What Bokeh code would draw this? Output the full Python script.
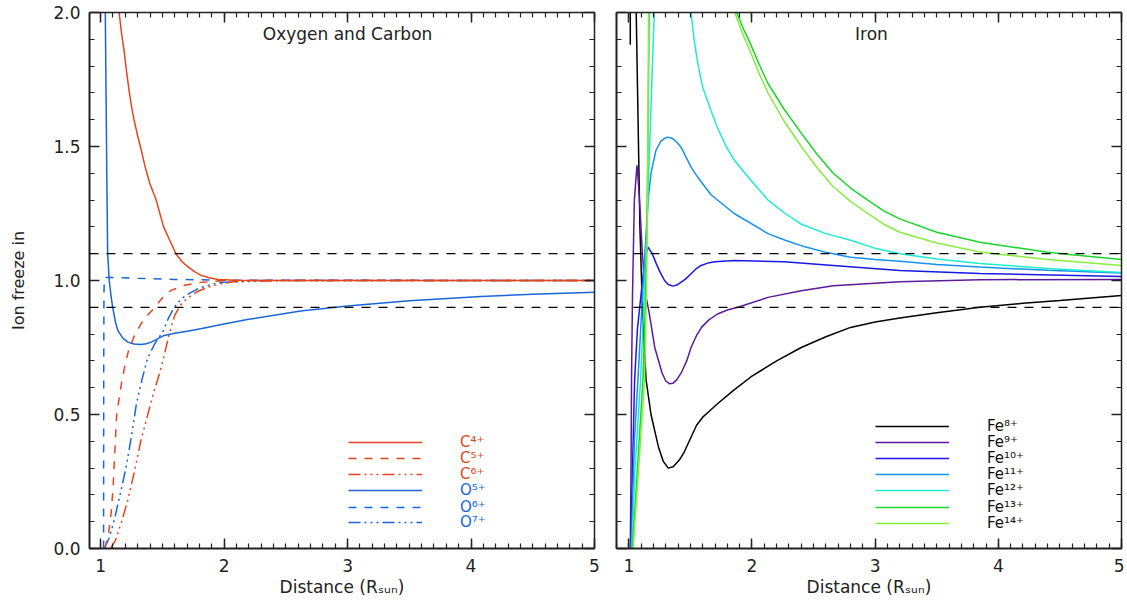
from bokeh.plotting import figure
from bokeh.layouts import row
from bokeh.models import (LinearAxis, SingleIntervalTicker, PrintfTickFormatter,
                          Range1d, Span, Label, Legend, LegendItem)
from bokeh.core.properties import value
from bokeh.embed import file_html
from bokeh.resources import INLINE

# ---------------- data ----------------
# Left panel: Oxygen and Carbon
c4_x = [1.13, 1.15, 1.17, 1.19, 1.21, 1.23, 1.25, 1.27, 1.30, 1.33, 1.36, 1.40, 1.45, 1.48,
        1.51, 1.56, 1.61, 1.66, 1.71, 1.76, 1.81, 1.88, 1.95, 2.1, 2.3, 3.0, 4.0, 5.0]
c4_y = [2.2, 2.0, 1.92, 1.858, 1.78, 1.71, 1.65, 1.60, 1.54, 1.485, 1.425, 1.36, 1.30, 1.25,
        1.20, 1.15, 1.10, 1.07, 1.05, 1.033, 1.02, 1.01, 1.004, 1.001, 1.0, 1.0, 1.0, 1.0]

c5_x = [1.035, 1.045, 1.065, 1.085, 1.10, 1.115, 1.13, 1.15, 1.17, 1.20, 1.23, 1.28, 1.33,
        1.38, 1.42, 1.50, 1.57, 1.68, 1.81, 2.0, 2.2, 5.0]
c5_y = [0.0, 0.02, 0.06, 0.13, 0.22, 0.36, 0.50, 0.56, 0.62, 0.69, 0.745, 0.80, 0.84,
        0.87, 0.89, 0.935, 0.963, 0.982, 0.993, 0.999, 1.0, 1.0]

c6_x = [1.08, 1.12, 1.17, 1.22, 1.275, 1.33, 1.385, 1.435, 1.475, 1.51, 1.555, 1.60, 1.65,
        1.71, 1.78, 1.87, 1.97, 2.08, 2.5, 5.0]
c6_y = [0.0, 0.03, 0.10, 0.18, 0.29, 0.41, 0.505, 0.59, 0.65, 0.71, 0.80, 0.87, 0.91,
        0.937, 0.958, 0.975, 0.988, 0.995, 1.0, 1.0]

o5_x = [1.033, 1.038, 1.044, 1.05, 1.057, 1.07, 1.085, 1.098, 1.12, 1.14, 1.18, 1.22, 1.27,
        1.327, 1.37, 1.41, 1.46, 1.515, 1.6, 1.7, 1.81, 2.0, 2.2, 2.62, 3.0, 3.5, 4.08, 4.5, 5.0]
o5_y = [2.3, 2.0, 1.7, 1.4, 1.1, 1.0, 0.94, 0.9, 0.845, 0.813, 0.785, 0.77, 0.763,
        0.761, 0.764, 0.77, 0.782, 0.795, 0.803, 0.811, 0.82, 0.838, 0.855, 0.886, 0.905,
        0.924, 0.94, 0.949, 0.956]

o6_x = [1.024, 1.025, 1.027, 1.03, 1.06, 1.3, 1.6, 2.0, 5.0]
o6_y = [0.0, 0.6, 0.95, 1.01, 1.012, 1.008, 1.004, 1.001, 1.0]

o7_x = [1.03, 1.07, 1.11, 1.155, 1.205, 1.25, 1.29, 1.335, 1.38, 1.44, 1.505, 1.55, 1.595,
        1.65, 1.71, 1.8, 1.95, 2.3, 5.0]
o7_y = [0.0, 0.04, 0.105, 0.195, 0.30, 0.42, 0.54, 0.63, 0.71, 0.765, 0.81, 0.86, 0.90,
        0.93, 0.95, 0.972, 0.992, 1.0, 1.0]

# Right panel: Iron
fe8_x = [1.012, 1.0125, 1.058, 1.06, 1.075, 1.09, 1.11, 1.14, 1.18, 1.24, 1.28, 1.32, 1.36,
         1.41, 1.45, 1.49, 1.55, 1.6, 1.66, 1.72, 1.85, 1.99, 2.2, 2.40, 2.6, 2.80, 3.0,
         3.20, 3.5, 3.85, 4.2, 4.5, 5.0]
fe8_y = [1.88, 3.0, 3.0, 2.0, 1.6, 1.2, 0.9, 0.63, 0.50, 0.38, 0.325, 0.30, 0.305,
         0.33, 0.36, 0.40, 0.46, 0.49, 0.515, 0.54, 0.59, 0.64, 0.70, 0.75, 0.79, 0.825, 0.845,
         0.86, 0.88, 0.90, 0.915, 0.925, 0.944]

fe9_x = [1.012, 1.018, 1.022, 1.03, 1.045, 1.066, 1.08, 1.093, 1.11, 1.126, 1.14, 1.166, 1.21,
         1.27, 1.30, 1.33, 1.36, 1.39, 1.425, 1.47, 1.505, 1.55, 1.59, 1.65, 1.72, 1.8, 1.885,
         2.13, 2.4, 2.66, 3.2, 3.85, 5.0]
fe9_y = [0.0, 0.3, 0.63, 0.95, 1.3, 1.43, 1.35, 1.25, 1.1, 1.0, 0.94, 0.877, 0.751,
         0.655, 0.625, 0.615, 0.617, 0.63, 0.655, 0.70, 0.75, 0.795, 0.825, 0.853, 0.875, 0.89,
         0.90, 0.937, 0.962, 0.98, 0.995, 1.003, 1.004]

fe10_x = [1.015, 1.03, 1.047, 1.07, 1.10, 1.13, 1.155, 1.19, 1.223, 1.25, 1.29, 1.32, 1.357,
          1.39, 1.425, 1.46, 1.505, 1.545, 1.587, 1.64, 1.7, 1.855, 2.26, 2.66, 3.2, 3.85, 5.0]
fe10_y = [0.0, 0.3, 0.63, 0.82, 0.95, 1.08, 1.125, 1.10, 1.063, 1.035, 1.0, 0.985, 0.979,
          0.983, 0.994, 1.005, 1.025, 1.043, 1.056, 1.065, 1.07, 1.075, 1.07, 1.056, 1.037,
          1.026, 1.015]

fe11_x = [1.02, 1.045, 1.074, 1.10, 1.13, 1.157, 1.18, 1.22, 1.26, 1.29, 1.317, 1.345, 1.37,
          1.425, 1.505, 1.56, 1.667, 1.855, 2.13, 2.27, 2.40, 2.6, 2.80, 3.0, 3.2, 3.5, 3.85,
          4.4, 5.0]
fe11_y = [0.0, 0.4, 0.63, 0.85, 1.1, 1.30, 1.40, 1.485, 1.52, 1.53, 1.535, 1.532, 1.525,
          1.497, 1.423, 1.385, 1.32, 1.25, 1.175, 1.15, 1.13, 1.105, 1.087, 1.078, 1.072, 1.06,
          1.05, 1.038, 1.028]

fe12_x = [1.025, 1.05, 1.096, 1.13, 1.155, 1.18, 1.207, 1.23, 1.44, 1.47, 1.505, 1.53, 1.56,
          1.60, 1.667, 1.72, 1.79, 1.855, 1.98, 2.13, 2.27, 2.40, 2.6, 2.80, 3.0, 3.2, 3.5,
          3.85, 4.4, 5.0]
fe12_y = [0.0, 0.3, 0.63, 1.0, 1.30, 1.65, 2.0, 2.5, 2.5, 2.2, 2.0, 1.90, 1.81,
          1.72, 1.634, 1.57, 1.50, 1.45, 1.38, 1.30, 1.25, 1.21, 1.175, 1.15, 1.12, 1.10, 1.08,
          1.063, 1.045, 1.03]

fe13_x = [1.03, 1.07, 1.115, 1.14, 1.155, 1.165, 1.17, 1.75, 1.80, 1.875, 1.93, 1.99, 2.06,
          2.13, 2.26, 2.40, 2.53, 2.66, 2.8, 2.94, 3.07, 3.2, 3.5, 3.85, 4.4, 5.0]
fe13_y = [0.0, 0.3, 0.63, 1.0, 1.5, 2.0, 2.5, 2.5, 2.1, 2.0, 1.94, 1.88, 1.805,
          1.735, 1.64, 1.55, 1.47, 1.40, 1.345, 1.30, 1.26, 1.23, 1.18, 1.143, 1.105, 1.078]

fe14_x = [1.035, 1.08, 1.128, 1.145, 1.155, 1.16, 1.165, 1.74, 1.79, 1.86, 1.92, 1.99, 2.06,
          2.13, 2.26, 2.40, 2.53, 2.66, 2.8, 2.94, 3.07, 3.2, 3.5, 3.85, 4.4, 5.0]
fe14_y = [0.0, 0.3, 0.63, 1.0, 1.5, 2.0, 2.5, 2.5, 2.1, 2.0, 1.925, 1.85, 1.77,
          1.70, 1.595, 1.50, 1.42, 1.35, 1.295, 1.25, 1.21, 1.18, 1.14, 1.106, 1.078, 1.056]

thresholds = [0.9, 1.1]

left_labels = ["C⁴⁺", "C⁵⁺", "C⁶⁺", "O⁵⁺", "O⁶⁺", "O⁷⁺"]
right_labels = ["Fe⁸⁺", "Fe⁹⁺", "Fe¹⁰⁺", "Fe¹¹⁺", "Fe¹²⁺", "Fe¹³⁺", "Fe¹⁴⁺"]
panel_titles = ["Oxygen and Carbon", "Iron"]
y_title = "Ion freeze in"
x_title = "Distance (Rₛᵤₙ)"

# ---------------- styling ----------------
FONT = "DejaVu Sans"
INK = "#222222"
ORANGE = "#e4461b"
BLUE = "#1966d8"
FE_COLORS = ["#000000", "#5b1a9a", "#1818e6", "#1492f2", "#1cecd0", "#18d62c", "#86ee3c"]
DASH = "8 8"
DASH3DOT = "12 4 2 4 2 4 2 4"


def make_panel(x_start, border_left, border_right):
    p = figure(frame_width=505, frame_height=536,
               x_range=Range1d(x_start, 5.0), y_range=Range1d(0.0, 2.0),
               x_axis_location=None, y_axis_location=None,
               output_backend="svg", toolbar_location=None,
               min_border_left=border_left, min_border_right=border_right,
               min_border_top=12, min_border_bottom=46,
               background_fill_color="white", border_fill_color="white")
    p.grid.visible = False
    p.outline_line_color = None
    return p


def add_axis(p, side, dim, labels):
    if dim == "x":
        ticker = SingleIntervalTicker(interval=1, num_minor_ticks=10)
        fmt = PrintfTickFormatter(format="%d")
    else:
        ticker = SingleIntervalTicker(interval=0.5, num_minor_ticks=5)
        fmt = PrintfTickFormatter(format="%.1f")
    ax = LinearAxis(ticker=ticker, formatter=fmt)
    ax.axis_line_width = 2 if side in ("left", "below") else 1.5
    ax.axis_line_color = INK
    ax.major_tick_in = 10
    ax.major_tick_out = 0
    ax.minor_tick_in = 5
    ax.minor_tick_out = 0
    ax.major_tick_line_width = 1.5
    ax.minor_tick_line_width = 1.2
    ax.major_tick_line_color = INK
    ax.minor_tick_line_color = INK
    ax.major_label_text_font = FONT
    if labels:
        ax.major_label_text_color = INK
        ax.major_label_text_font_size = "17px"
        ax.major_label_standoff = 10 if dim == "x" else 9
    else:
        ax.major_label_text_color = None
        ax.major_label_text_font_size = "1px"
        ax.major_label_standoff = 0
    p.add_layout(ax, side)
    return ax


def add_frame(p, ylabels):
    xa = add_axis(p, "below", "x", True)
    xa.axis_label = x_title
    xa.axis_label_text_font = FONT
    xa.axis_label_text_font_style = "normal"
    xa.axis_label_text_font_size = "17px"
    xa.axis_label_text_color = INK
    xa.axis_label_standoff = 2
    add_axis(p, "above", "x", False)
    ya = add_axis(p, "left", "y", ylabels)
    add_axis(p, "right", "y", False)
    for t in thresholds:
        p.add_layout(Span(location=t, dimension="width", line_color="black",
                          line_dash="9 8", line_width=1.3))
    return ya


def add_key(p, renderer, label, color, vy):
    lg = Legend(items=[LegendItem(label=value(label), renderers=[renderer])],
                location=(259, vy), orientation="vertical",
                glyph_width=74, glyph_height=22, label_height=22, label_width=10,
                label_standoff=38, padding=0, margin=0, spacing=0,
                border_line_color=None, background_fill_alpha=0,
                label_text_font=FONT, label_text_font_size="15px",
                label_text_color=color)
    p.add_layout(lg)


# ---------------- left panel ----------------
p1 = make_panel(0.91, 89, 10)
ya = add_frame(p1, True)
ya.axis_label = y_title
ya.axis_label_text_font = FONT
ya.axis_label_text_font_style = "normal"
ya.axis_label_text_font_size = "16px"
ya.axis_label_text_color = INK
ya.axis_label_standoff = 22

r_o5 = p1.line(o5_x, o5_y, line_color=BLUE, line_width=1.5)
r_o6 = p1.line(o6_x, o6_y, line_color=BLUE, line_width=1.5, line_dash=DASH)
r_o7 = p1.line(o7_x, o7_y, line_color=BLUE, line_width=1.5, line_dash=DASH3DOT)
r_c4 = p1.line(c4_x, c4_y, line_color=ORANGE, line_width=1.5)
r_c5 = p1.line(c5_x, c5_y, line_color=ORANGE, line_width=1.5, line_dash=DASH)
r_c6 = p1.line(c6_x, c6_y, line_color=ORANGE, line_width=1.5, line_dash=DASH3DOT)

left_rows = [95, 79, 63, 47, 30, 15]
for r, lab, col, vy in zip([r_c4, r_c5, r_c6, r_o5, r_o6, r_o7], left_labels,
                           [ORANGE] * 3 + [BLUE] * 3, left_rows):
    add_key(p1, r, lab, col, vy)

p1.add_layout(Label(x=3.0, y=1.92, text=panel_titles[0], text_align="center",
                    text_baseline="middle", text_font=FONT, text_font_size="17px",
                    text_color=INK))

# ---------------- right panel ----------------
p2 = make_panel(0.9, 12, 3)
add_frame(p2, False)

fe_x = [fe8_x, fe9_x, fe10_x, fe11_x, fe12_x, fe13_x, fe14_x]
fe_y = [fe8_y, fe9_y, fe10_y, fe11_y, fe12_y, fe13_y, fe14_y]
right_rows = [111, 95, 79, 63, 47, 30, 14]
fe_r = []
for xs, ys, col in zip(fe_x, fe_y, FE_COLORS):
    fe_r.append(p2.line(xs, ys, line_color=col, line_width=1.5))
for r, lab, vy in zip(fe_r, right_labels, right_rows):
    add_key(p2, r, lab, "#111111", vy)

p2.add_layout(Label(x=2.97, y=1.92, text=panel_titles[1], text_align="center",
                    text_baseline="middle", text_font=FONT, text_font_size="17px",
                    text_color=INK))

layout = row(p1, p2)
open("out.html", "w").write(file_html(layout, INLINE))
